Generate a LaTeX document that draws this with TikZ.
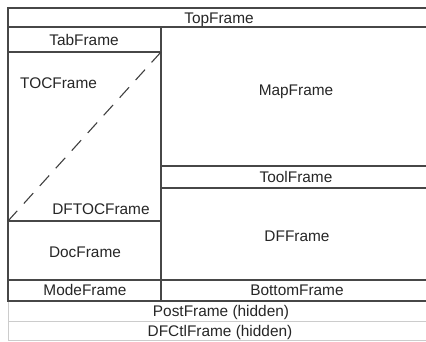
\documentclass[tikz,border=0pt]{standalone}
\usepackage{fontspec}
\setmainfont{Liberation Sans}
\begin{document}
\begin{tikzpicture}[x=1pt,y=-1pt,
  frameline/.style={draw=black!72, line width=1.4pt},
  hiddenline/.style={draw=black!20, line width=1pt},
  lbl/.style={font=\fontsize{15.4}{18}\selectfont, text=black!85, inner sep=0pt, text height=11pt, text depth=0pt},
  diag/.style={draw=black!75, line width=1.1pt, dash pattern=on 14pt off 9.8pt}]
\useasboundingbox (0,0) rectangle (426,341);
\fill[white] (0,0) rectangle (426,341);
% hidden frames
\draw[hiddenline] (8,301) rectangle (432,321);
\draw[hiddenline] (8,321) rectangle (432,340);
% visible frames
\draw[frameline] (8,8) rectangle (432,301);
\draw[frameline] (8,27) -- (432,27);
\draw[frameline] (161,27) -- (161,301);
\draw[frameline] (8,52) -- (161,52);
\draw[frameline] (8,221) -- (161,221);
\draw[frameline] (8,280) -- (432,280);
\draw[frameline] (161,166) -- (432,166);
\draw[frameline] (161,188) -- (432,188);
% diagonal
\coordinate (dtop) at (161,52);
\coordinate (dbot) at (8,221);
\draw[diag] (dtop) -- (dbot);
% labels
\node[lbl] (top) at (219,17.5) {TopFrame};
\node[lbl] (tab) at (84,39.5) {TabFrame};
\node[lbl, anchor=west] (toc) at (20,83) {TOCFrame};
\node[lbl] (map) at (296,90) {MapFrame};
\node[lbl] (tool) at (296,177) {ToolFrame};
\node[lbl] (dftoc) at (101,209) {DFTOCFrame};
\node[lbl] (doc) at (85,252) {DocFrame};
\node[lbl] (df) at (297,236) {DFFrame};
\node[lbl] (mode) at (85,289.5) {ModeFrame};
\node[lbl] (bottom) at (297,289.5) {BottomFrame};
\node[lbl] (post) at (221,311) {PostFrame (hidden)};
\node[lbl] (ctl) at (220,331) {DFCtlFrame (hidden)};
\end{tikzpicture}
\end{document}
